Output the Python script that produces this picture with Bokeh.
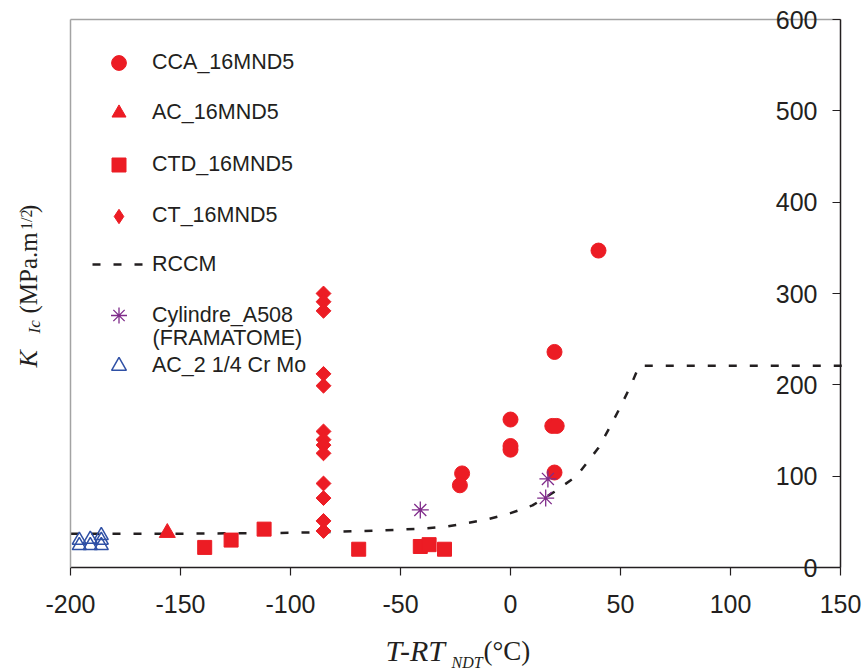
import numpy as np
from bokeh.plotting import figure
from bokeh.models import (ColumnDataSource, Label, Legend, LegendItem, FixedTicker,
                          LinearAxis, Range1d)
from bokeh.embed import file_html
from bokeh.resources import INLINE

# ---------------- data ----------------
cca_x = [40, 20, 0, 0, 0, 19, 21, 20, -22, -23]
cca_y = [347, 236, 162, 133, 129, 155, 155, 104, 103, 90]

ac_x = [-156]
ac_y = [38]

ctd_x = [-139, -127, -112, -69, -41, -37, -30]
ctd_y = [22, 30, 42, 20, 23, 25, 20]

ct_x = [-85] * 13
ct_y = [300, 291, 281, 212, 199, 149, 140, 134, 125, 92, 76, 51, 40]

cyl_x = [-41, 17, 16]
cyl_y = [63, 97, 76]

crmo_x = [-196, -196, -191, -191, -186, -186, -186]
crmo_y = [30, 24, 31, 24, 35, 30, 24]

rccm_x = [-200, -150, -100, -80, -60, -40, -30, -20, -10, 0, 10, 20, 30, 40, 45, 50, 55, 58.5, 152]
rccm_y = [37, 37, 38, 39, 40.5, 42.5, 44.5, 48.5, 53, 59.5, 68, 83, 100, 131, 153, 176, 201, 221, 221]

x_ticks = [-200, -150, -100, -50, 0, 50, 100, 150]
y_ticks = [0, 100, 200, 300, 400, 500, 600]
x_tick_labels = ["-200", "-150", "-100", "-50", "0", "50", "100", "150"]
y_tick_labels = ["0", "100", "200", "300", "400", "500", "600"]

# ---------------- styling / layout constants (pixels) ----------------
RED = "#ec1c24"
PURPLE = "#7f2b8a"
BLUE = "#2f50a5"
INK = "#231f20"
GREY = "#a3a3a3"
SANS = "Liberation Sans"
SERIF = "Liberation Serif"

W, H = 864, 670
FRAME_L, FRAME_R, FRAME_T, FRAME_B = 70, 840, 19, 567

# the whole canvas is the plotting area; the data box is placed inside it
px_x = (FRAME_R - FRAME_L) / (x_ticks[-1] - x_ticks[0])
px_y = (FRAME_B - FRAME_T) / (y_ticks[-1] - y_ticks[0])
x_range = Range1d(x_ticks[0] - FRAME_L / px_x, x_ticks[-1] + (W - FRAME_R) / px_x)
y_range = Range1d(y_ticks[0] - (H - FRAME_B) / px_y, y_ticks[-1] + FRAME_T / px_y)

p = figure(width=W, height=H, x_range=x_range, y_range=y_range,
           output_backend="svg", toolbar_location=None,
           x_axis_location=None, y_axis_location=None, min_border=0)
p.grid.visible = False
p.outline_line_color = None
p.background_fill_color = "white"
p.border_fill_color = "white"

xb = (x_ticks[0], x_ticks[-1])
yb = (y_ticks[0], y_ticks[-1])

# bottom axis at y = 0
xa = LinearAxis(fixed_location=y_ticks[0], bounds=xb, ticker=FixedTicker(ticks=x_ticks),
                major_label_overrides=dict(zip(x_ticks, x_tick_labels)))
xa.major_tick_in = 0
xa.major_tick_out = 8
xa.minor_tick_line_color = None
xa.axis_line_color = INK
xa.axis_line_width = 1.5
xa.major_tick_line_color = INK
xa.major_tick_line_width = 1.2
xa.major_label_text_font = SANS
xa.major_label_text_font_size = "25px"
xa.major_label_text_color = INK
xa.major_label_standoff = 19
p.add_layout(xa, "below")

# value axis at x = 150, ticks and labels towards the inside
ya = LinearAxis(fixed_location=x_ticks[-1], bounds=yb, ticker=FixedTicker(ticks=y_ticks),
                major_label_overrides=dict(zip(y_ticks, y_tick_labels)))
ya.major_tick_in = 0
ya.major_tick_out = 8
ya.minor_tick_line_color = None
ya.axis_line_color = INK
ya.axis_line_width = 1.5
ya.major_tick_line_color = INK
ya.major_tick_line_width = 1.2
ya.major_label_text_font = SANS
ya.major_label_text_font_size = "25px"
ya.major_label_text_color = INK
ya.major_label_standoff = 15
p.add_layout(ya, "left")

# grey box edges (left and top)
for loc, side, bnd in [(x_ticks[0], "left", yb), (y_ticks[-1], "above", xb)]:
    ax = LinearAxis(fixed_location=loc, bounds=bnd, ticker=FixedTicker(ticks=[]))
    ax.axis_line_color = GREY
    ax.axis_line_width = 1.5
    ax.major_tick_line_color = None
    ax.minor_tick_line_color = None
    p.add_layout(ax, side)

# ---------------- data glyphs ----------------
r_rccm = p.line(rccm_x, rccm_y, line_color=INK, line_width=2.5, line_dash="8 13")
r_cca = p.scatter(cca_x, cca_y, marker="circle", size=15, fill_color=RED, line_color=RED)
r_ac = p.scatter(ac_x, ac_y, marker="triangle", size=16, fill_color=RED, line_color=RED)
r_ctd = p.scatter(ctd_x, ctd_y, marker="square", size=14, fill_color=RED, line_color=RED)
r_ct = p.scatter(ct_x, ct_y, marker="square", angle=np.pi / 4, size=10.5,
                 fill_color=RED, line_color=RED)
r_cyl = p.scatter(cyl_x, cyl_y, marker="asterisk", size=17, line_color=PURPLE, line_width=1.3)
r_crmo = p.scatter(crmo_x, crmo_y, marker="triangle", size=14, fill_color=None,
                   line_color=BLUE, line_width=1.5)
# key-only glyph for the diamond series (legend keys ignore marker angle); NaN -> not drawn
r_ct_key = p.scatter(x=[np.nan], y=[np.nan], marker="diamond", fill_color=RED, line_color=RED)

# ---------------- legend: one single-row legend per entry ----------------
rows = [
    ("CCA_16MND5", r_cca, 62.7, 37),
    ("AC_16MND5", r_ac, 112.7, 35),
    ("CTD_16MND5", r_ctd, 164, 35),
    ("CT_16MND5", r_ct_key, 215.7, 36),
    ("RCCM", r_rccm, 264, 30),
    ("Cylindre_A508", r_cyl, 315, 40),
    ("AC_2 1/4 Cr Mo", r_crmo, 365, 37),
]
for lab, rend, cy, gh in rows:
    leg = Legend(items=[LegendItem(label=lab, renderers=[rend])],
                 location=(92, H - cy - gh / 2), glyph_width=53, glyph_height=gh,
                 label_height=gh, label_standoff=7, padding=0, margin=0, spacing=0,
                 border_line_color=None, background_fill_alpha=0,
                 label_text_font=SANS, label_text_font_size="21.5px", label_text_color=INK)
    p.add_layout(leg)

p.add_layout(Label(x=152, y=H - 337, x_units="screen", y_units="screen", text="(FRAMATOME)",
                   text_baseline="middle", text_font=SANS, text_font_size="21.5px",
                   text_color=INK))

# ---------------- axis titles ----------------
# (text, baseline position, start position along the text, style, font px)
ylab = [("K", 37, 367, "italic", 26),
        ("Ic", 40, 333, "italic", 17),
        ("(MPa.m", 37, 313, "normal", 25),
        ("1/2", 31.5, 229.5, "normal", 16),
        (")", 37, 212.5, "normal", 25)]
for t, bx, sy, st, fs in ylab:
    p.add_layout(Label(x=bx - 0.35 * fs, y=H - sy, x_units="screen", y_units="screen",
                       text=t, angle=np.pi / 2,
                       text_font=SERIF, text_font_style=st, text_font_size=f"{fs}px",
                       text_color=INK, text_baseline="alphabetic", text_align="left"))

xlab = [("T-RT", 385, 661, "italic", 30),
        ("NDT", 451, 668, "italic", 16),
        ("(°C)", 483, 661, "normal", 27)]
for t, sx, by, st, fs in xlab:
    p.add_layout(Label(x=sx, y=H - by + 0.38 * fs, x_units="screen", y_units="screen", text=t,
                       text_font=SERIF, text_font_style=st, text_font_size=f"{fs}px",
                       text_color=INK, text_baseline="alphabetic", text_align="left"))

open("out.html", "w").write(file_html(p, INLINE))
